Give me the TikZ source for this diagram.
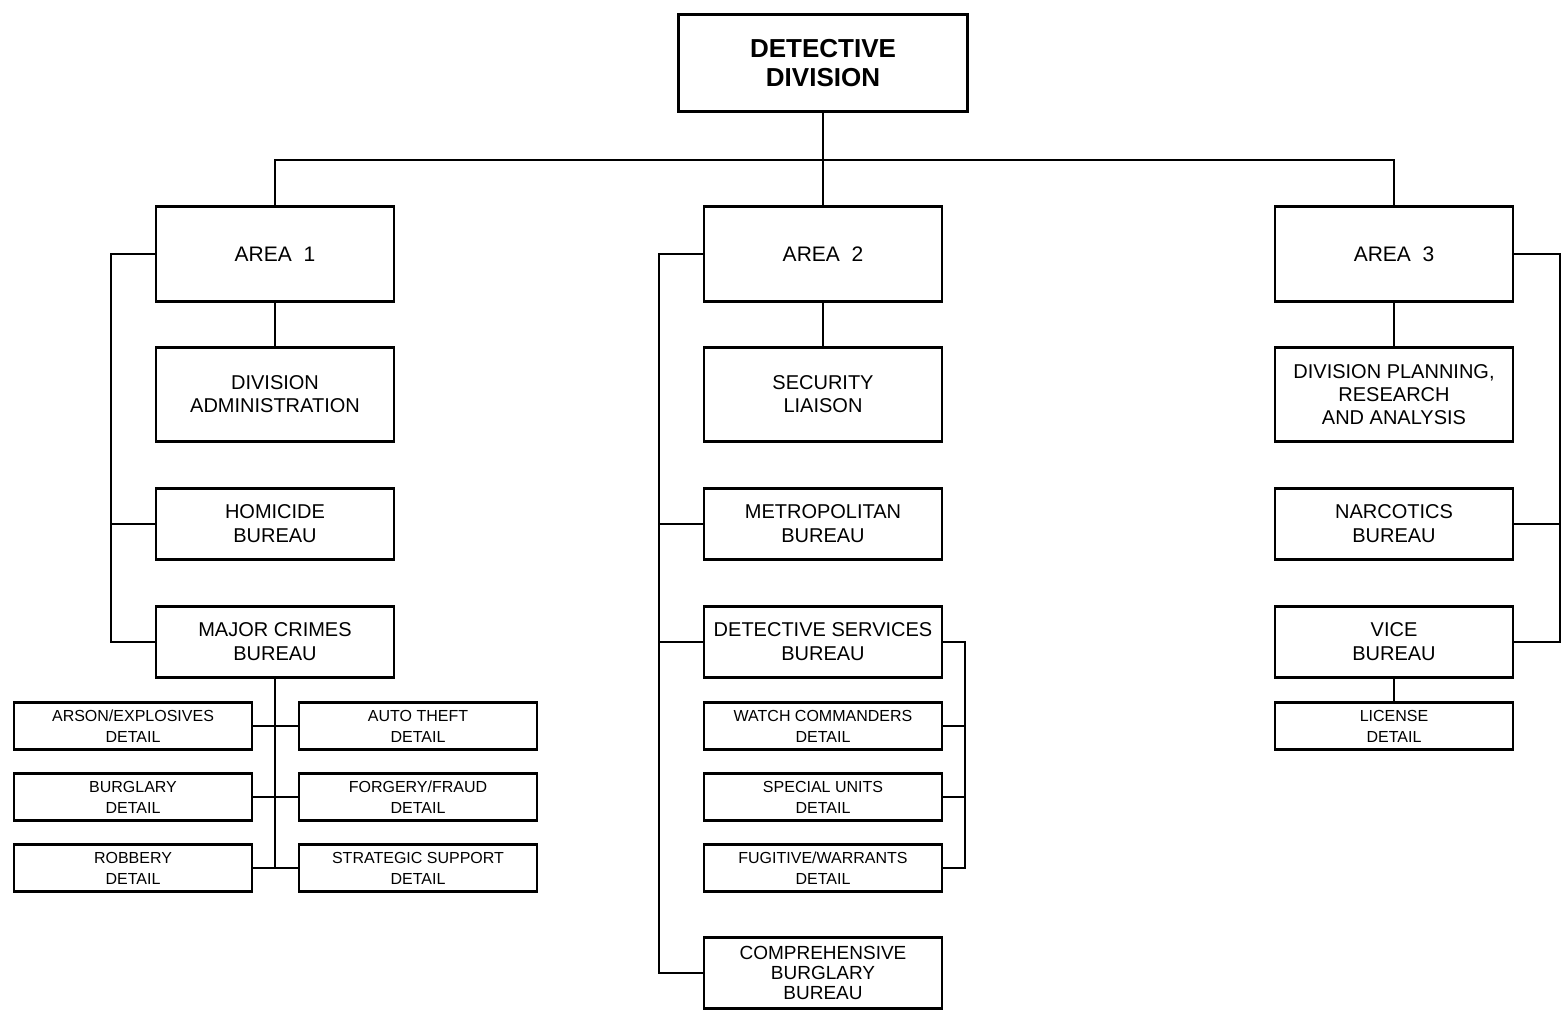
\documentclass[tikz,border=0pt]{standalone}
\usepackage{fontspec}
\setmainfont{Liberation Sans}
\usepackage{tikz}
\usetikzlibrary{positioning}
\tikzset{
  head/.style={rectangle, draw=black, line width=2.4pt, outer sep=0pt, minimum width=289pt, minimum height=97pt, align=center, font=\fontsize{26}{29}\selectfont\bfseries},
  areabox/.style={rectangle, draw=black, line width=2.4pt, outer sep=0pt, minimum width=238pt, minimum height=95pt, align=center, font=\fontsize{21}{24}\selectfont},
  unit/.style={rectangle, draw=black, line width=2.4pt, outer sep=0pt, inner sep=3pt, minimum width=238pt, minimum height=71pt, align=center, font=\fontsize{20}{24}\selectfont},
  tallunit/.style={unit, minimum height=94pt, font=\fontsize{20}{23}\selectfont},
  detail/.style={unit, minimum height=47pt, font=\fontsize{16}{21}\selectfont},
  link/.style={line width=1.8pt, draw=black}
}

\begin{document}
\begin{tikzpicture}[x=1pt, y=-1pt]
  \useasboundingbox (0,0) rectangle (1563,1014);

  \node[head] (division) at (823,63) {DETECTIVE\\DIVISION};
  \node[areabox, below=95pt of division] (area2) {AREA~~2};
  \node[areabox, left=310pt of area2] (area1) {AREA~~1};
  \node[areabox, right=333pt of area2] (area3) {AREA~~3};

  % area 1
  \node[tallunit, below=46pt of area1] (admin) {DIVISION\\ADMINISTRATION};
  \node[unit, below=47pt of admin] (homicide) {HOMICIDE\\BUREAU};
  \node[unit, below=47pt of homicide] (majorcrimes) {MAJOR CRIMES\\BUREAU};
  \node[detail, below left=25pt and 23pt of majorcrimes.south] (arson) {ARSON/EXPLOSIVES\\DETAIL};
  \node[detail, below right=25pt and 24pt of majorcrimes.south] (autotheft) {AUTO THEFT\\DETAIL};
  \node[detail, below=24pt of arson] (burglary) {BURGLARY\\DETAIL};
  \node[detail, below=24pt of autotheft] (forgery) {FORGERY/FRAUD\\DETAIL};
  \node[detail, below=24pt of burglary] (robbery) {ROBBERY\\DETAIL};
  \node[detail, below=24pt of forgery] (strategic) {STRATEGIC SUPPORT\\DETAIL};

  % area 2
  \node[tallunit, below=46pt of area2] (security) {SECURITY\\LIAISON};
  \node[unit, below=47pt of security] (metro) {METROPOLITAN\\BUREAU};
  \node[unit, below=47pt of metro] (detservices) {DETECTIVE SERVICES\\BUREAU};
  \node[detail, below=25pt of detservices] (watch) {WATCH COMMANDERS\\DETAIL};
  \node[detail, below=24pt of watch] (special) {SPECIAL UNITS\\DETAIL};
  \node[detail, below=24pt of special] (fugitive) {FUGITIVE/WARRANTS\\DETAIL};
  \node[unit, below=46pt of fugitive, font=\fontsize{19}{20}\selectfont] (burglarybureau) {COMPREHENSIVE\\BURGLARY\\BUREAU};

  % area 3
  \node[tallunit, below=46pt of area3] (planning) {DIVISION PLANNING,\\RESEARCH\\AND ANALYSIS};
  \node[unit, below=47pt of planning] (narcotics) {NARCOTICS\\BUREAU};
  \node[unit, below=47pt of narcotics] (vice) {VICE\\BUREAU};
  \node[detail, below=25pt of vice] (license) {LICENSE\\DETAIL};

  \coordinate (bus) at (823,160);
  \draw[link] (division) -- (area2);
  \draw[link] (area1.north) |- (bus) -| (area3.north);

  \draw[link] (area1) -- (admin);
  \draw[link] (area1.west) -- ++(-45,0) |- (majorcrimes.west);
  \draw[link] (homicide.west) -- ++(-45,0);
  \draw[link] (majorcrimes.south) -- (majorcrimes.south |- robbery.east);
  \draw[link] (arson) -- (autotheft);
  \draw[link] (burglary) -- (forgery);
  \draw[link] (robbery) -- (strategic);

  \draw[link] (area2) -- (security);
  \draw[link] (area2.west) -- ++(-45,0) |- (burglarybureau.west);
  \draw[link] (metro.west) -- ++(-45,0);
  \draw[link] (detservices.west) -- ++(-45,0);
  \draw[link] (detservices.east) -- ++(23,0) |- (fugitive.east);
  \draw[link] (watch.east) -- ++(23,0);
  \draw[link] (special.east) -- ++(23,0);

  \draw[link] (area3) -- (planning);
  \draw[link] (vice) -- (license);
  \draw[link] (area3.east) -- ++(47,0) |- (vice.east);
  \draw[link] (narcotics.east) -- ++(47,0);
\end{tikzpicture}
\end{document}
